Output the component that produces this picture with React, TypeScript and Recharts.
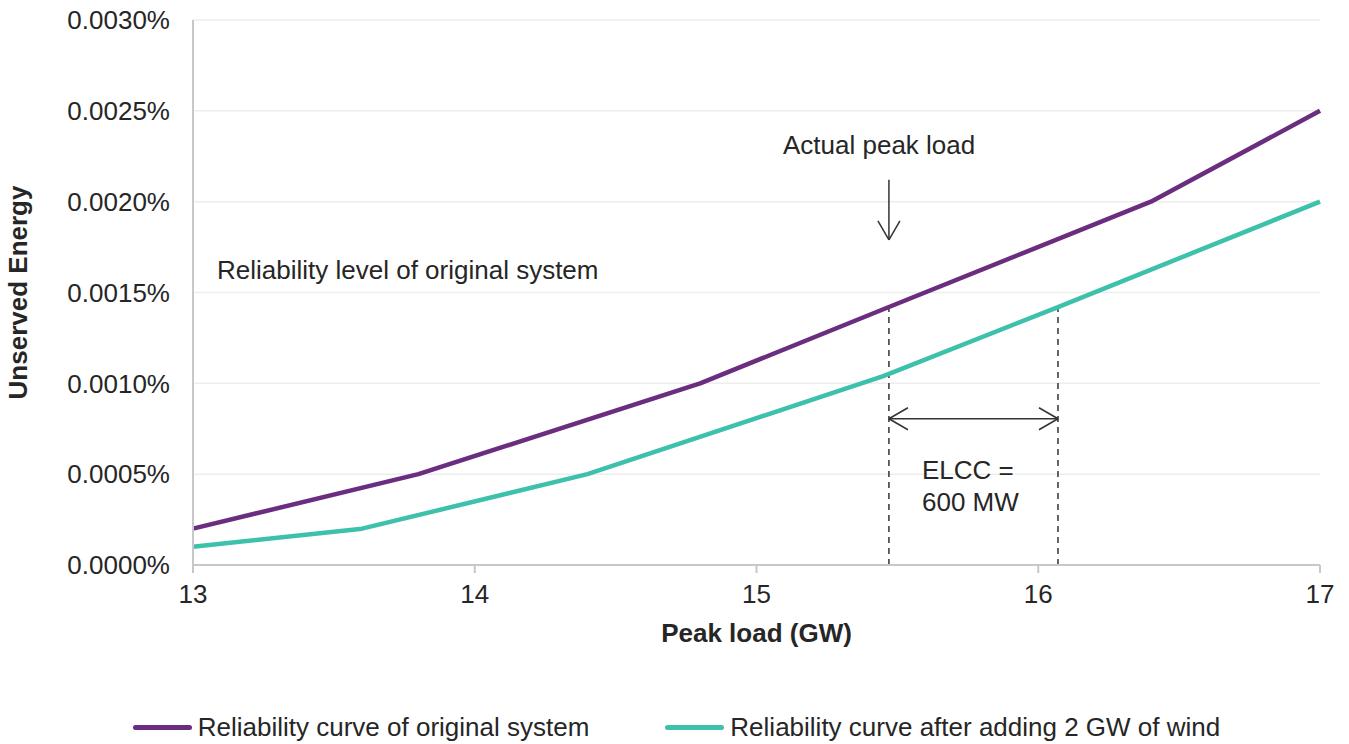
import React from "react";
import {
  LineChart,
  Line,
  XAxis,
  YAxis,
  CartesianGrid,
  ReferenceLine,
  Legend,
} from "recharts";

// Peak load (GW) and unserved energy (%)
const originalLoad = [13, 13.8, 14.8, 15.47, 16.4, 17];
const originalUE = [0.0002, 0.0005, 0.001, 0.00142, 0.002, 0.0025];
const windLoad = [13, 13.6, 14.4, 15.45, 16.07, 17];
const windUE = [0.0001, 0.0002, 0.0005, 0.00104, 0.00142, 0.002];

const xTicks = [13, 14, 15, 16, 17];
const yTicks = [0, 0.0005, 0.001, 0.0015, 0.002, 0.0025, 0.003];

// annotation anchors (data units)
const peakLoad = 15.47;
const equivLoad = 16.07;
const reliabilityLevel = 0.00142;
const arrowTop = 0.00212;
const arrowTip = 0.00179;
const elccArrowY = 0.000805;

const originalData = originalLoad.map((load, i) => ({ load, ue: originalUE[i] }));
const windData = windLoad.map((load, i) => ({ load, ue: windUE[i] }));

const PURPLE = "#6B2D7F";
const TEAL = "#3EC1AC";
const TEXT = "#262626";
const FONT = '"Liberation Sans", Arial, sans-serif';

// arrowhead size in data units (~19px long, ~11px half-spread)
const headX = 19 / 281.75;
const spreadX = 11 / 281.75;
const headY = 19 * (0.0005 / 90.83);
const spreadY = 11 * (0.0005 / 90.83);

const arrow = { stroke: "#333", strokeWidth: 1.5, ifOverflow: "visible" as const };

const LegendContent = () => (
  <div
    style={{
      display: "flex",
      justifyContent: "center",
      alignItems: "center",
      gap: 76,
      height: 30,
      paddingLeft: 4,
      fontFamily: FONT,
      fontSize: 26,
      color: TEXT,
    }}
  >
    {[
      { name: "Reliability curve of original system", color: PURPLE },
      { name: "Reliability curve after adding 2 GW of wind", color: TEAL },
    ].map((item) => (
      <div key={item.name} style={{ display: "flex", alignItems: "center" }}>
        <span
          style={{
            display: "inline-block",
            width: 59,
            height: 5,
            borderRadius: 3,
            background: item.color,
            marginRight: 6,
          }}
        />
        <span>{item.name}</span>
      </div>
    ))}
  </div>
);

const label = (left: number, top: number, text: React.ReactNode, lh = 26) => (
  <div
    style={{
      position: "absolute",
      left,
      top,
      fontFamily: FONT,
      fontSize: 26,
      lineHeight: `${lh}px`,
      color: TEXT,
      whiteSpace: "nowrap",
    }}
  >
    {text}
  </div>
);

export default function App() {
  return (
    <div style={{ position: "absolute", left: 0, top: 0, width: 1349, height: 744, background: "#fff" }}>
      <LineChart
        width={1349}
        height={744}
        margin={{ top: 20, right: 29, left: 10, bottom: 69 }}
        style={{ fontFamily: FONT }}
      >
        <CartesianGrid vertical={false} stroke="#EDEDED" strokeWidth={1.5} />
        <XAxis
          type="number"
          dataKey="load"
          domain={[13, 17]}
          ticks={xTicks}
          height={80}
          axisLine={{ stroke: "#C8C8C8", strokeWidth: 2 }}
          tickLine={{ stroke: "#C8C8C8", strokeWidth: 2 }}
          tickSize={8}
          tickMargin={12}
          tick={{ fill: TEXT, fontSize: 26 }}
          label={{
            value: "Peak load (GW)",
            position: "insideTop",
            offset: 59,
            style: { fill: TEXT, fontSize: 26, fontWeight: 700 },
          }}
        />
        <YAxis
          type="number"
          domain={[0, 0.003]}
          ticks={yTicks}
          width={183}
          axisLine={{ stroke: "#C8C8C8", strokeWidth: 2 }}
          tickLine={false}
          tickSize={0}
          tickMargin={23}
          tick={{ fill: TEXT, fontSize: 26 }}
          tickFormatter={(v: number) => `${v.toFixed(4)}%`}
          label={{
            value: "Unserved Energy",
            angle: -90,
            position: "insideLeft",
            offset: 8,
            style: { textAnchor: "middle", fill: TEXT, fontSize: 26, fontWeight: 700 },
          }}
        />
        <Legend
          content={<LegendContent />}
          wrapperStyle={{ position: "absolute", top: 712, left: 0, width: 1349 }}
        />
        {/* dashed drop lines */}
        <ReferenceLine
          segment={[{ x: peakLoad, y: 0 }, { x: peakLoad, y: reliabilityLevel }]}
          stroke="#333"
          strokeWidth={1.5}
          strokeDasharray="6 5"
        />
        <ReferenceLine
          segment={[{ x: equivLoad, y: 0 }, { x: equivLoad, y: reliabilityLevel }]}
          stroke="#333"
          strokeWidth={1.5}
          strokeDasharray="6 5"
        />
        {/* ELCC double arrow */}
        <ReferenceLine segment={[{ x: peakLoad, y: elccArrowY }, { x: equivLoad, y: elccArrowY }]} {...arrow} />
        <ReferenceLine segment={[{ x: peakLoad + headX, y: elccArrowY + spreadY }, { x: peakLoad, y: elccArrowY }]} {...arrow} />
        <ReferenceLine segment={[{ x: peakLoad + headX, y: elccArrowY - spreadY }, { x: peakLoad, y: elccArrowY }]} {...arrow} />
        <ReferenceLine segment={[{ x: equivLoad - headX, y: elccArrowY + spreadY }, { x: equivLoad, y: elccArrowY }]} {...arrow} />
        <ReferenceLine segment={[{ x: equivLoad - headX, y: elccArrowY - spreadY }, { x: equivLoad, y: elccArrowY }]} {...arrow} />
        {/* actual peak load arrow */}
        <ReferenceLine segment={[{ x: peakLoad, y: arrowTop }, { x: peakLoad, y: arrowTip }]} {...arrow} />
        <ReferenceLine segment={[{ x: peakLoad - spreadX, y: arrowTip + headY }, { x: peakLoad, y: arrowTip }]} {...arrow} />
        <ReferenceLine segment={[{ x: peakLoad + spreadX, y: arrowTip + headY }, { x: peakLoad, y: arrowTip }]} {...arrow} />
        <Line
          data={originalData}
          dataKey="ue"
          name="Reliability curve of original system"
          type="linear"
          stroke={PURPLE}
          strokeWidth={4.5}
          strokeLinejoin="round"
          dot={false}
          activeDot={false}
          isAnimationActive={false}
        />
        <Line
          data={windData}
          dataKey="ue"
          name="Reliability curve after adding 2 GW of wind"
          type="linear"
          stroke={TEAL}
          strokeWidth={4.5}
          strokeLinejoin="round"
          dot={false}
          activeDot={false}
          isAnimationActive={false}
        />
      </LineChart>
      {label(783, 132, "Actual peak load")}
      {label(217, 257, "Reliability level of original system")}
      {label(922, 454, <>ELCC =<br />600 MW</>, 32)}
    </div>
  );
}
